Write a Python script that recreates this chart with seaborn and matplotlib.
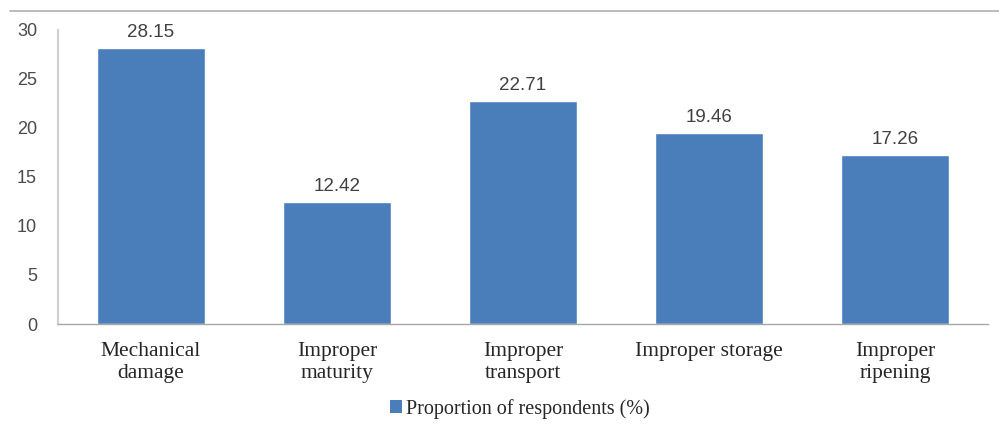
import matplotlib
matplotlib.use("Agg")
import matplotlib.pyplot as plt
from matplotlib.lines import Line2D
from matplotlib.patches import Patch
import seaborn as sns
import pandas as pd

categories = ["Mechanical\ndamage", "Improper\nmaturity", "Improper\ntransport",
              "Improper storage", "Improper\nripening"]
values = [28.15, 12.42, 22.71, 19.46, 17.26]
series_name = "Proportion of respondents (%)"
y_ticks = [0, 5, 10, 15, 20, 25, 30]

df = pd.DataFrame({"cause": categories, "pct": values})

sns.set_style("white")
bar_color = "#4a7ebb"

fig = plt.figure(figsize=(9.99, 4.30), dpi=100)
ax = fig.add_axes([0.058, 0.2465, 0.931, 0.684])

sns.barplot(data=df, x="cause", y="pct", color=bar_color, width=0.58,
            saturation=1, ax=ax)

ax.set_ylim(0, 30)
ax.set_yticks(y_ticks)
ax.set_yticklabels([str(t) for t in y_ticks], family="Liberation Sans",
                   fontsize=13, color="#4a4a4a")
ax.set_xticklabels(categories, family="Liberation Serif", fontsize=15.5,
                   color="#262626", linespacing=1.2)
ax.tick_params(axis="both", length=0)
ax.tick_params(axis="y", pad=15)
ax.tick_params(axis="x", pad=13)
ax.set_xlabel("")
ax.set_ylabel("")

for side in ["top", "right"]:
    ax.spines[side].set_visible(False)
ax.spines["left"].set_color("#d0d0d0")
ax.spines["left"].set_linewidth(1.5)
ax.spines["bottom"].set_color("#a6a6a6")
ax.spines["bottom"].set_linewidth(1.0)

for patch, v in zip(ax.patches, values):
    ax.text(patch.get_x() + patch.get_width() / 2, v + 0.7, f"{v:.2f}",
            ha="center", va="bottom", family="Liberation Sans",
            fontsize=13.5, color="#404040")

# thin rule across the top of the figure
fig.add_artist(Line2D([0.01, 1.0], [1 - 11 / 430, 1 - 11 / 430],
                      transform=fig.transFigure, color="#b0b0b0", lw=1.2))

handle = Patch(facecolor=bar_color, edgecolor="none")
fig.legend([handle], [series_name], loc="center", bbox_to_anchor=(0.52, 1 - 409 / 430),
           frameon=False, prop={"family": "Liberation Serif", "size": 14.5},
           handlelength=0.6, handleheight=0.6, handletextpad=0.2)

fig.savefig("out.png", dpi=100)
